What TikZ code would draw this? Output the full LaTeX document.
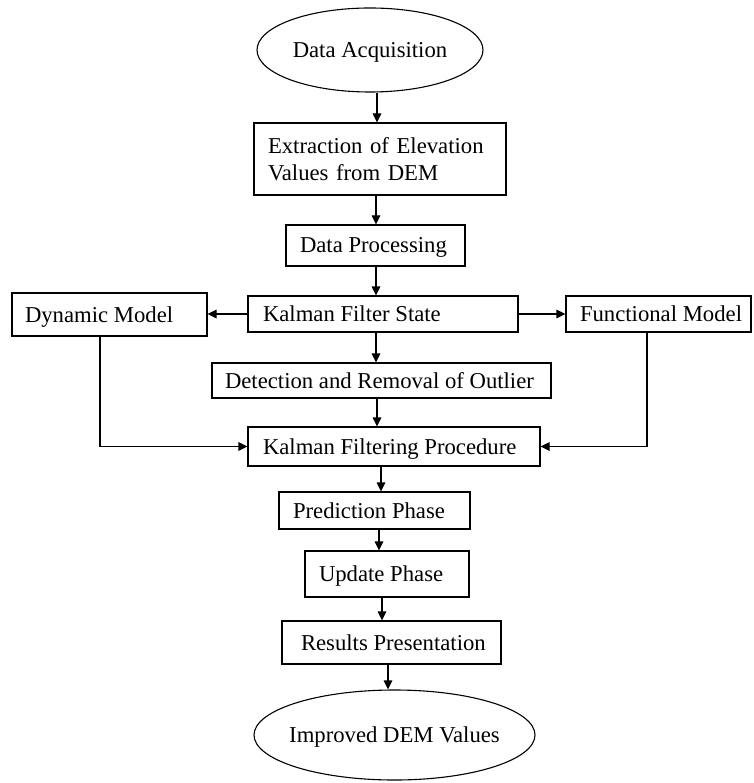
\documentclass[tikz,border=0pt]{standalone}
\usepackage{fontspec}
\setmainfont{Liberation Serif}
\usetikzlibrary{shapes.geometric,arrows.meta}
\begin{document}
\begin{tikzpicture}[x=1pt,y=-1pt,
  every node/.style={font=\fontsize{22.7}{27}\selectfont},
  box/.style={draw, line width=1.1pt, rectangle, inner ysep=0pt, text height=15pt, text depth=0pt},
  twoline/.style={draw, line width=1.1pt, rectangle, inner ysep=0pt},
  oval/.style={draw, line width=1.1pt, ellipse, inner sep=0pt, text height=15pt, text depth=0pt},
  arr/.style={line width=1.1pt, -{Triangle[length=9pt,width=8.5pt]}},
  ln/.style={line width=1.1pt}]
\useasboundingbox (0,0) rectangle (753,783);
\node[oval, minimum width=226pt, minimum height=84pt] (da) at (370,50) {\makebox[150pt]{Data Acquisition}};
\node[twoline, inner xsep=14pt, text width=224pt, align=left, minimum height=72pt] (ext) at (380,159) {Extraction of Elevation\\Values from DEM};
\node[box, inner xsep=14pt, minimum height=41pt] (dp) at (375.5,245.5) {\makebox[151pt][l]{Data Processing}};
\node[box, inner xsep=15pt, minimum height=36pt] (kfs) at (383,314) {\makebox[240pt][l]{Kalman Filter State}};
\node[box, inner xsep=13pt, minimum height=43pt] (dyn) at (109.5,314.5) {\makebox[169pt][l]{Dynamic Model}};
\node[box, inner xsep=14pt, minimum height=36pt] (fun) at (658.5,314) {\makebox[157pt][l]{Functional Model}};
\node[box, inner xsep=13pt, minimum height=35pt] (det) at (381.5,380.5) {\makebox[313pt][l]{Detection and Removal of Outlier}};
\node[box, inner xsep=15pt, minimum height=39pt] (kfp) at (394,446.5) {\makebox[262pt][l]{Kalman Filtering Procedure}};
\node[box, inner xsep=14pt, minimum height=37pt] (pred) at (374.5,510.5) {\makebox[163pt][l]{Prediction Phase}};
\node[box, inner xsep=14pt, minimum height=46pt] (upd) at (387,574) {\makebox[136pt][l]{Update Phase}};
\node[box, inner xsep=19pt, minimum height=43pt] (res) at (391.5,642.5) {\makebox[181pt][l]{Results Presentation}};
\node[oval, minimum width=281pt, minimum height=90pt] (imp) at (394.5,735) {\makebox[190pt]{Improved DEM Values}};

\draw[arr] (377,0 |- da.south) -- (377,0 |- ext.north);
\draw[arr] (376,0 |- ext.south) -- (376,0 |- dp.north);
\draw[arr] (376,0 |- dp.south) -- (376,0 |- kfs.north);
\draw[arr] (kfs.west) -- (kfs.west -| dyn.east);
\draw[arr] (kfs.east) -- (kfs.east -| fun.west);
\draw[arr] (376,0 |- kfs.south) -- (376,0 |- det.north);
\draw[arr] (377,0 |- det.south) -- (377,0 |- kfp.north);
\draw[arr] (100,0 |- dyn.south) |- (kfp.west);
\draw[arr] (647,0 |- fun.south) |- (kfp.east);
\draw[arr] (381,0 |- kfp.south) -- (381,0 |- pred.north);
\draw[arr] (379,0 |- pred.south) -- (379,0 |- upd.north);
\draw[arr] (382,0 |- upd.south) -- (382,0 |- res.north);
\draw[arr] (388,0 |- res.south) -- (388,0 |- imp.north);
\end{tikzpicture}
\end{document}
